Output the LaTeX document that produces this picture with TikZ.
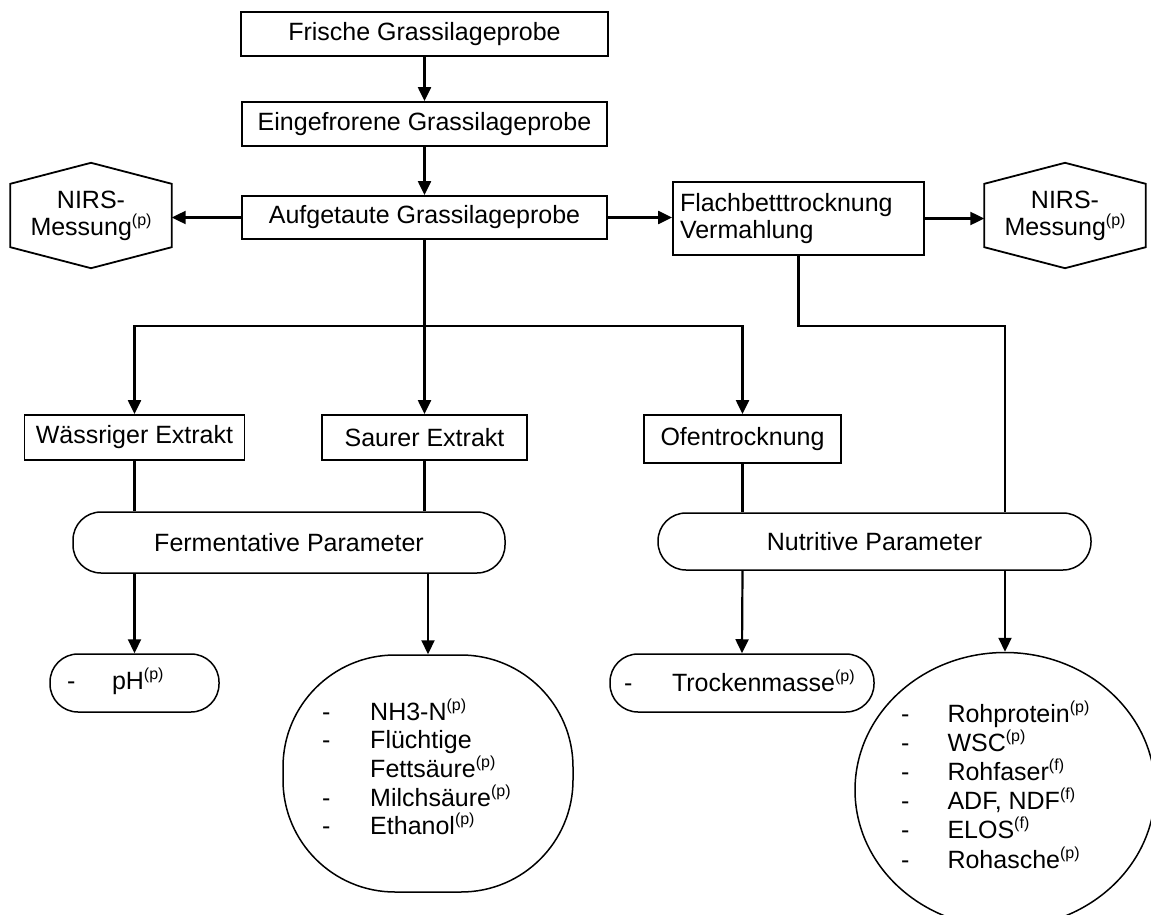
\documentclass[tikz,border=0pt]{standalone}
\usepackage{fontspec}
\setmainfont{Liberation Sans}
\usetikzlibrary{arrows.meta,shapes.geometric,calc}
\newcommand\mysup[1]{\smash{\raisebox{10pt}{\fontsize{16}{16}\selectfont #1}}}
\begin{document}
\begin{tikzpicture}[x=1pt,y=-1pt,
  every node/.style={font=\fontsize{25}{27}\selectfont, inner sep=0pt},
  box/.style={draw, line width=1.8pt, minimum height=44pt},
  pill/.style={draw, line width=1.5pt, rounded corners=28pt},
  conn/.style={line width=2.2pt},
  arr/.style={conn, -{Triangle[length=14pt,width=13pt]}},
  hexa/.style={minimum width=161pt, minimum height=105pt, align=center},
  hexline/.style={line width=1.8pt, line join=miter}]
\useasboundingbox (0,0) rectangle (1151,915);

% boxes
\node[box, minimum width=367pt] (frische) at (424.5,34) {Frische Grassilageprobe};
\node[box, minimum width=365pt] (eingef) at (424.5,124) {Eingefrorene Grassilageprobe};
\node[box, minimum width=365pt, minimum height=43pt] (aufget) at (424.5,217.5) {Aufgetaute Grassilageprobe};
\node[box, minimum width=251pt, minimum height=73pt, text width=237pt, align=left] (flach) at (798.5,218.5) {Flachbetttrocknung\\Vermahlung};

% hexagons
\node[hexa] (nirsL) at (91,215.5) {NIRS-\\Messung\mysup{(p)}};
\node[hexa] (nirsR) at (1065,215.5) {NIRS-\\Messung\mysup{(p)}};
\foreach \h in {nirsL,nirsR}{
  \draw[hexline] (\h.north) -- ([yshift=-21pt]\h.north east) -- ([yshift=21pt]\h.south east)
    -- (\h.south) -- ([yshift=21pt]\h.south west) -- ([yshift=-21pt]\h.north west) -- cycle;
}

% second level boxes
\node[box, minimum width=220pt, minimum height=45pt] (wass) at (134.5,437.5) {Wässriger Extrakt};
\node[box, minimum width=205pt, minimum height=45pt] (saur) at (424.5,437.5) {Saurer Extrakt};
\node[box, minimum width=197pt, minimum height=48pt] (ofen) at (742.5,439) {Ofentrocknung};

% parameter pills
\node[pill, minimum width=432pt, minimum height=61pt] (fermp) at (289,542.5) {Fermentative Parameter};
\node[pill, minimum width=433pt, minimum height=57pt] (nutrp) at (874.5,541.5) {Nutritive Parameter};

% result shapes
\node[pill, minimum width=169pt, minimum height=58pt] (ph) at (134.5,683)
  {\makebox[135pt][l]{-\hspace{36.7pt}pH\mysup{(p)}}};
\node[pill, minimum width=264pt, minimum height=58pt] (troc) at (742,683)
  {\makebox[236pt][l]{-\hspace{39.7pt}Trockenmasse\mysup{(p)}}};
\node[draw, line width=1.5pt, rounded corners=112pt, minimum width=290pt, minimum height=237pt] (nh3) at (428,773.5) {};
\node[draw, line width=1.5pt, ellipse, minimum width=300pt, minimum height=275pt] (nutc) at (1005,790) {};

\node[anchor=base west, font=\fontsize{25}{28.7}\selectfont] (nh3list) at (322,720)
  {\begin{tabular}[t]{@{}l@{\hspace{39.7pt}}l@{}}
   - & NH3-N\mysup{(p)}\\
   - & Flüchtige\\
     & Fettsäure\mysup{(p)}\\
   - & Milchsäure\mysup{(p)}\\
   - & Ethanol\mysup{(p)}
   \end{tabular}};
\node[anchor=base west, font=\fontsize{25}{29.2}\selectfont] (nutlist) at (901,722)
  {\begin{tabular}[t]{@{}l@{\hspace{38pt}}l@{}}
   - & Rohprotein\mysup{(p)}\\
   - & WSC\mysup{(p)}\\
   - & Rohfaser\mysup{(f)}\\
   - & ADF, NDF\mysup{(f)}\\
   - & ELOS\mysup{(f)}\\
   - & Rohasche\mysup{(p)}
   \end{tabular}};

% connectors
\coordinate (br) at (0,326);
\draw[arr] (frische.south) -- (eingef.north);
\draw[arr] (eingef.south) -- (aufget.north);
\draw[arr] (aufget.west) -- (nirsL.east |- aufget.west);
\draw[arr] (aufget.east) -- (flach.west |- aufget.east);
\draw[arr] (flach.east) -- (nirsR.west |- flach.east);
\draw[arr] (aufget.south) -- (saur.north);
\draw[arr] (aufget.south |- br) -| (wass.north);
\draw[arr] (aufget.south |- br) -| (ofen.north);
\draw[conn] (flach.south) |- (nutc.north |- br) -- (nutc.north |- nutrp.north);
\draw[conn] (wass.south) -- (wass.south |- fermp.north);
\draw[conn] (saur.south) -- (saur.south |- fermp.north);
\draw[conn] (ofen.south) -- (ofen.south |- nutrp.north);
\draw[arr] (wass.south |- fermp.south) -- (ph.north);
\draw[arr] (nh3.north |- fermp.south) -- (nh3.north);
\draw[arr] (ofen.south |- nutrp.south) -- (troc.north);
\draw[arr] (nutc.north |- nutrp.south) -- (nutc.north);
\end{tikzpicture}
\end{document}
